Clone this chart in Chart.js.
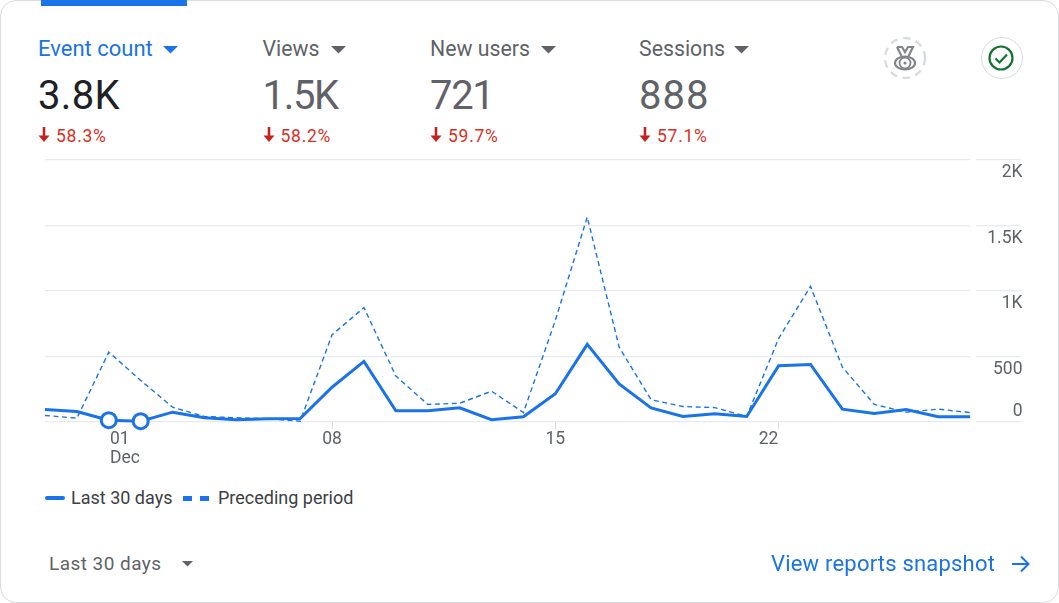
<!DOCTYPE html>
<html><head><meta charset="utf-8">
<script src="https://cdn.jsdelivr.net/npm/chart.js@4"></script>
<style>
html,body{margin:0;padding:0;background:#fff;width:1059px;height:603px;overflow:hidden;font-family:Roboto,sans-serif}
#card{position:absolute;left:0;top:0;width:1057px;height:601px;border:1px solid #dadce0;border-radius:16px;}
#bar{position:absolute;left:41px;top:0;width:146px;height:6px;background:#1a73e8}
canvas{position:absolute;left:0;top:0}
.t{position:absolute;white-space:nowrap}
.name{font-size:21.3px;line-height:24px;top:37px;color:#5f6368}
.val{font-size:40px;line-height:48px;top:72px;color:#5f6368}
.del{font-size:17.5px;line-height:20px;top:126px;color:#d93025;letter-spacing:.75px}
svg{position:absolute;overflow:visible}
#leg div{position:absolute}
</style></head><body>
<div id="card"></div><div id="bar"></div>
<div id="kpis"></div>
<canvas id="c" width="1059" height="480"></canvas>
<div id="leg"></div>
<div class="t" style="left:49px;top:552px;font-size:19px;line-height:24px;color:#5f6368;letter-spacing:.45px">Last 30 days</div>
<svg style="left:0;top:0" width="1059" height="603">
<path d="M182 561h11l-5.500 5.500z" fill="#5f6368"/>
<path d="M1012 564h16M1021 556.500l7.500 7.500-7.500 7.500" fill="none" stroke="#1a73e8" stroke-width="2"/>
<circle cx="905" cy="58" r="20" fill="none" stroke="#dadce0" stroke-width="2.400" stroke-dasharray="7.500 5.600"/>
<path d="M897 47h5l3 5 3-5h5l-4.500 9M897 47l4.500 9" fill="none" stroke="#80868b" stroke-width="2.200"/>
<ellipse cx="905" cy="63" rx="10" ry="6.500" fill="none" stroke="#80868b" stroke-width="2.200"/>
<circle cx="905" cy="63" r="5.500" fill="none" stroke="#80868b" stroke-width="1.800"/>
<circle cx="905" cy="63" r="1.500" fill="#80868b"/>
<circle cx="1002" cy="58" r="20.500" fill="#fff" stroke="#dadce0" stroke-width="1"/>
<circle cx="1001" cy="58" r="11.500" fill="none" stroke="#137333" stroke-width="2.200"/>
<path d="M995.500 58.500l4 4 7.500-8" fill="none" stroke="#137333" stroke-width="2.200"/>
</svg>
<div class="t" style="left:771px;top:551px;font-size:22px;line-height:26px;color:#1a73e8;letter-spacing:.2px">View reports snapshot</div>
<script>
const metricNames = ['Event count', 'Views', 'New users', 'Sessions'];
const metricValues = ['3.8K', '1.5K', '721', '888'];
const metricDeltas = ['58.3%', '58.2%', '59.7%', '57.1%'];
const metricLeft = [38, 262.5, 430, 639];
const days = ['29','30','01','02','03','04','05','06','07','08','09','10','11','12','13','14','15','16','17','18','19','20','21','22','23','24','25','26','27','28'];
const lastPeriod = [95,80,14,6,75,32,17,25,27,265,462,85,85,108,17,40,215,592,291,108,42,62,42,429,439,98,65,95,40,40];
const precedingPeriod = [50,29,533,317,113,42,32,25,6,665,872,350,134,143,235,72,775,1563,571,170,118,110,42,637,1034,418,134,75,98,72];
const seriesNames = ['Last 30 days', 'Preceding period'];
const shownTicks = ['01','08','15','22'];
const yTickText = {0:'0',500:'500',1000:'1K',1500:'1.5K',2000:'2K'};
const markedPoints = [2,3];
const blue = '#1a73e8', grey = '#5f6368';

const caretLeft = [163, 331, 541, 734];
const nameSize = [22, 21.3, 21.3, 21.3];
const valSpacing = [0.3, -1.3, -1.3, 1];
document.getElementById('kpis').innerHTML = metricNames.map((n,i)=>{
  const on = i===0, c = on?blue:grey, l = metricLeft[i];
  return `<div class="t name" style="left:${l}px;color:${c};font-size:${nameSize[i]}px">${n}</div>
  <svg style="left:${caretLeft[i]}px;top:46px" width="16" height="8"><path d="M0 0h15l-7.500 7.500z" fill="${c}"/></svg>
  <div class="t val" style="left:${l}px;color:${on?'#202124':grey};letter-spacing:${valSpacing[i]}px">${metricValues[i]}</div>
  <svg style="left:${l}px;top:127px" width="12" height="16"><path d="M6 0v10" stroke="#c5221f" stroke-width="2.600"/><path d="M0.500 8.500h11l-5.500 6.500z" fill="#c5221f"/></svg>
  <div class="t del" style="left:${l+18}px">${metricDeltas[i]}</div>`;
}).join('');

document.getElementById('leg').innerHTML =
 `<div style="left:45px;top:496px;width:20px;height:4px;border-radius:2px;background:${blue}"></div>
  <div class="t" style="left:71px;top:488px;font-size:18px;line-height:20px;color:#3c4043">${seriesNames[0]}</div>
  <div style="left:183px;top:496px;width:9px;height:5px;background:${blue}"></div>
  <div style="left:200px;top:496px;width:9px;height:5px;background:${blue}"></div>
  <div class="t" style="left:218px;top:488px;font-size:18px;line-height:20px;color:#3c4043">${seriesNames[1]}</div>`;

const placeLabels = {
  id:'placeLabels',
  beforeDraw(chart){
    const x = chart.scales.x, y = chart.scales.y;
    y.getLabelItems().forEach((it,i)=>{
      if(it.done) return; it.done = true;
      const v = y.ticks[i].value;
      it.options.textAlign='right';
      it.options.translation=[1022.5, it.options.translation[1] + (v===0?-10:13)];
    });
    x.getLabelItems().forEach((it,i)=>{
      if(it.done) return; it.done = true;
      const t = days[x.ticks[i].value];
      if(t==='01'){ it.options.textAlign='left'; it.options.translation[0]=110; }
      if(t==='22'){ it.options.translation[0]-=10; }
    });
  }
};

new Chart(document.getElementById('c'),{
  type:'line',
  data:{labels:days,datasets:[
    {label:seriesNames[0],data:lastPeriod,borderColor:blue,borderWidth:3,tension:0,order:0,clip:false,
     backgroundColor:'#fff',
     pointRadius:c=>markedPoints.includes(c.dataIndex)?7.5:0,
     pointBorderWidth:3,pointBorderColor:blue,pointBackgroundColor:'#fff'},
    {label:seriesNames[1],data:precedingPeriod,borderColor:blue,borderWidth:1.4,borderDash:[5,3.5],tension:0,order:1,pointRadius:0,clip:false}
  ]},
  options:{
    responsive:false,animation:false,devicePixelRatio:1,
    layout:{padding:{left:45,top:159.7,right:0,bottom:0}},
    plugins:{legend:{display:false},tooltip:{enabled:false}},
    scales:{
      x:{type:'category',offset:false,
        afterBuildTicks:s=>{s.ticks=s.ticks.filter(t=>shownTicks.includes(days[t.value]));},
        afterFit:s=>{s.height=58;},
        border:{display:false},
        grid:{drawOnChartArea:false,drawTicks:true,tickLength:7,tickColor:'#dadce0',tickWidth:1},
        ticks:{autoSkip:false,maxRotation:0,padding:1,color:grey,font:{family:'Roboto',size:17.5,lineHeight:1.09},
          callback:function(v){const d=days[v];return d==='01'?[d,'Dec']:d;}}
      },
      y:{position:'right',min:0,max:2000,
        afterBuildTicks:s=>{s.ticks=Object.keys(yTickText).map(v=>({value:+v}));},
        afterFit:s=>{s.width=89;},
        border:{display:false},
        grid:{color:'#e8eaed',lineWidth:1.2,drawTicks:true,tickLength:51,tickColor:'#e8eaed',tickBorderDash:[0,6,45,100]},
        ticks:{padding:0,color:grey,font:{family:'Roboto',size:17.5},callback:v=>yTickText[v]}
      }
    }
  },
  plugins:[placeLabels]
});
</script>
</body></html>
